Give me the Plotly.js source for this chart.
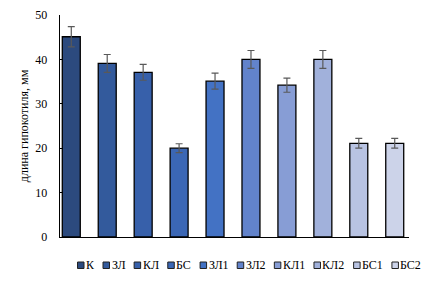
<!DOCTYPE html>
<html>
<head>
<meta charset="utf-8">
<script src="https://cdn.plot.ly/plotly-3.0.1.min.js"></script>
<style>html,body{margin:0;padding:0;background:#fff;}#chart{width:424px;height:283px;}</style>
</head>
<body>
<div id="chart"></div>
<script>
var categories = ['К', 'ЗЛ', 'КЛ', 'БС', 'ЗЛ1', 'ЗЛ2', 'КЛ1', 'КЛ2', 'БС1', 'БС2'];
var values = [45.1, 39.1, 37.1, 20.0, 35.1, 40.0, 34.2, 40.0, 21.1, 21.1];
var errors = [2.3, 2.0, 1.8, 1.0, 1.8, 2.0, 1.6, 2.0, 1.1, 1.1];
var colors = ['#2C4A7E', '#335A9C', '#3760AA', '#3B67B5', '#4372C4', '#6283CB', '#879DD5', '#A1B1DB', '#B8C3E2', '#CCD3E9'];
var yTicks = [0, 10, 20, 30, 40, 50];

var FONT = 'Liberation Serif, Times New Roman, serif';

var traces = categories.map(function (c, i) {
  return {
    type: 'bar',
    name: c,
    x: [c],
    y: [values[i]],
    width: 0.5,
    marker: {color: colors[i], line: {color: '#000', width: 1.3}},
    error_y: {type: 'data', array: [errors[i]], visible: true, color: '#595959', thickness: 1.2, width: 3.5},
    showlegend: false,
    hoverinfo: 'skip'
  };
});

// custom legend laid out by text widths
var ctx = document.createElement('canvas').getContext('2d');
ctx.font = '12px "Liberation Serif"';
var W = 424, H = 283;
var shapes = [], annotations = [];
var xp = 77.5, yTop = 262, sq = 6.5;
categories.forEach(function (c, i) {
  shapes.push({type: 'rect', xref: 'paper', yref: 'paper',
    x0: (xp - 60) / (W - 75), x1: (xp + sq - 60) / (W - 75),
    y0: (H - 46 - yTop) / (H - 61), y1: (H - 46 - yTop - sq) / (H - 61),
    fillcolor: colors[i], line: {color: '#222', width: 1}});
  var tx = xp + sq + 1;
  annotations.push({xref: 'paper', yref: 'paper', x: (tx - 60) / (W - 75), y: (H - 46 - (yTop + sq / 2)) / (H - 61),
    xanchor: 'left', yanchor: 'middle', text: c, showarrow: false,
    font: {family: FONT, size: 12, color: '#000'}, xshift: -1});
  xp = tx + ctx.measureText(c).width + 10;
});

var layout = {
  width: 424, height: 283,
  margin: {l: 60, r: 15, t: 15, b: 46},
  paper_bgcolor: '#fff', plot_bgcolor: '#fff',
  barmode: 'overlay',
  showlegend: false,
  xaxis: {type: 'category', range: [-0.314, 9.397], showticklabels: false, ticks: '',
    showline: true, linecolor: '#000', linewidth: 1.3, showgrid: false, zeroline: false, fixedrange: true},
  yaxis: {range: [0, 50], tickvals: yTicks, ticks: 'inside', ticklen: 3, tickcolor: '#000', tickwidth: 1,
    showline: true, linecolor: '#000', linewidth: 1.3, showgrid: false, zeroline: false,
    ticklabelstandoff: 9,
    tickfont: {family: FONT, size: 12, color: '#000'},
    title: {text: 'длина гипокотиля, мм', font: {family: FONT, size: 12, color: '#000'}, standoff: 4}},
  shapes: shapes,
  annotations: annotations
};

Plotly.newPlot('chart', traces, layout, {displayModeBar: false, staticPlot: true});
</script>
</body>
</html>
